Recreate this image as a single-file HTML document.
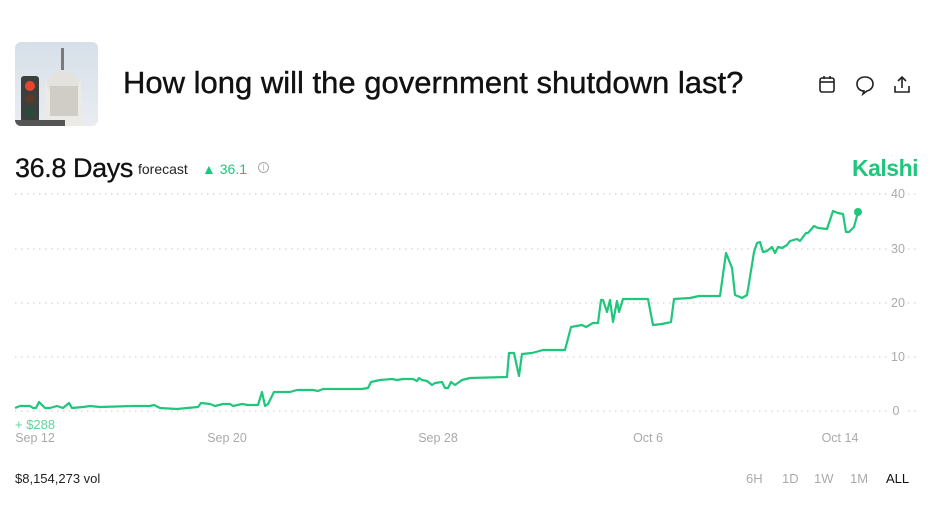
<!DOCTYPE html>
<html><head><style>
body{margin:0;width:931px;height:523px;background:#fff;font-family:"Liberation Sans",sans-serif;position:relative;overflow:hidden}
.a{position:absolute;white-space:nowrap}
</style></head><body>
<div class="a" style="left:15px;top:42px;width:83px;height:84px;border-radius:6px;overflow:hidden;background:linear-gradient(#d6dfe8,#e9edf1)">
<svg width="83" height="84"><rect x="30" y="40" width="36" height="44" fill="#eceae4"/><ellipse cx="48" cy="42" rx="16" ry="12" fill="#e4e2dc"/><rect x="46" y="6" width="3" height="22" fill="#7a7a7a"/><rect x="35" y="44" width="28" height="30" fill="#d0cdc6"/>
<rect x="6" y="34" width="18" height="46" rx="3" fill="#3b3f3d"/><circle cx="15" cy="44" r="5" fill="#e8452c"/><circle cx="15" cy="57" r="5" fill="#5a3a2a"/><circle cx="15" cy="70" r="5" fill="#2b4a3a"/><rect x="0" y="78" width="50" height="6" fill="#555"/></svg></div>
<div class="a" style="left:123px;top:65px;font-size:31px;color:#111;-webkit-text-stroke:0.4px #111">How long will the government shutdown last?</div>
<svg class="a" style="left:818px;top:74px" width="95" height="22" fill="none" stroke="#222" stroke-width="1.6">
<rect x="2" y="4" width="14" height="14" rx="2"/><line x1="2" y1="8" x2="16" y2="8"/><line x1="6" y1="2" x2="6" y2="5"/><line x1="12" y1="2" x2="12" y2="5"/>
<path d="M47 3c-5 0-8 3-8 7s3 7 7 7l-1 3 4-3c4-1 6-4 6-7 0-4-3-7-8-7z"/>
<path d="M84 3v11M80 7l4-4 4 4M77 12v6h14v-6"/></svg>
<div class="a" style="left:15px;top:153px;font-size:27px;color:#111;letter-spacing:-0.4px;-webkit-text-stroke:0.3px #111">36.8 Days</div>
<div class="a" style="left:138px;top:161px;font-size:14px;color:#222">forecast</div>
<div class="a" style="left:202px;top:161px;font-size:14px;color:#1fc67c">▲ 36.1</div>
<div class="a" style="left:258px;top:162px;width:9px;height:9px;border:1px solid #aaa;border-radius:50%;font-size:8px;color:#aaa;text-align:center;line-height:9px">i</div>
<div class="a" style="left:852px;top:155px;font-size:23px;font-weight:bold;color:#1fc67c;letter-spacing:-0.5px">Kalshi</div>
<svg class="a" style="left:0;top:0" width="931" height="523">
<g stroke="#d4d4d4" stroke-width="1.2" stroke-dasharray="1.5 4.5">
<line x1="15" y1="194" x2="888" y2="194"/><line x1="15" y1="249" x2="888" y2="249"/><line x1="15" y1="303" x2="888" y2="303"/><line x1="15" y1="357" x2="888" y2="357"/><line x1="15" y1="411" x2="888" y2="411"/>
<line x1="908" y1="194" x2="918" y2="194"/><line x1="908" y1="249" x2="918" y2="249"/><line x1="908" y1="303" x2="918" y2="303"/><line x1="908" y1="357" x2="918" y2="357"/><line x1="908" y1="411" x2="918" y2="411"/></g>
<g font-size="12.5" fill="#aaa" text-anchor="middle"><text x="898" y="198">40</text><text x="898" y="253">30</text><text x="898" y="307">20</text><text x="898" y="361">10</text><text x="896" y="415">0</text>
<text x="35" y="442">Sep 12</text><text x="227" y="442">Sep 20</text><text x="438" y="442">Sep 28</text><text x="648" y="442">Oct 6</text><text x="840" y="442">Oct 14</text></g>
<polyline fill="none" stroke="#1fc67c" stroke-width="2.2" stroke-linejoin="round" points="15,408 20,406 30,406 33,408 36,408 39,402 45,408 50,408 57,406 63,408 69,403 72,408 83,407 90,406 100,407 133,406 150,406 154,405 160,408 177,409 187,408 198,407 201,403 210,404 215,406 223,404 230,404 233,406 242,404 248,405 258,405 262,392 265,406 268,404 274,392 290,392 297,390 313,390 318,391 323,389 357,389 362,389 368,388 371,382 380,380 392,379 397,380 403,379 413,379 417,381 419,378 422,380 427,381 432,385 435,383 442,382 445,388 448,388 451,382 455,385 462,380 470,378 507,377 509,353 514,353 519,376 522,354 532,353 543,350 565,350 571,327 582,325 586,327 593,323 598,323 601,300 603,300 607,312 610,300 613,322 617,301 619,312 623,299 648,299 653,325 662,324 671,322 674,299 690,298 699,296 720,296 726,253 732,268 735,295 740,297 742,298 747,295 750,277 754,252 757,243 760,242 763,252 767,251 772,247 775,253 778,247 782,248 787,245 790,241 797,239 800,241 806,233 808,233 814,226 818,228 827,229 833,211 838,213 843,214 846,232 849,232 854,227 858,212"/>
<circle cx="858" cy="212" r="4" fill="#1fc67c"/>
</svg>
<div class="a" style="left:15px;top:417px;font-size:13px;color:#5fd39c">+ $288</div>
<div class="a" style="left:15px;top:471px;font-size:13px;color:#222">$8,154,273 vol</div>
<div class="a" style="left:746px;top:471px;font-size:13px;color:#aaa">6H</div>
<div class="a" style="left:782px;top:471px;font-size:13px;color:#aaa">1D</div>
<div class="a" style="left:814px;top:471px;font-size:13px;color:#aaa">1W</div>
<div class="a" style="left:850px;top:471px;font-size:13px;color:#aaa">1M</div>
<div class="a" style="left:886px;top:471px;font-size:13px;color:#111">ALL</div>
</body></html>
